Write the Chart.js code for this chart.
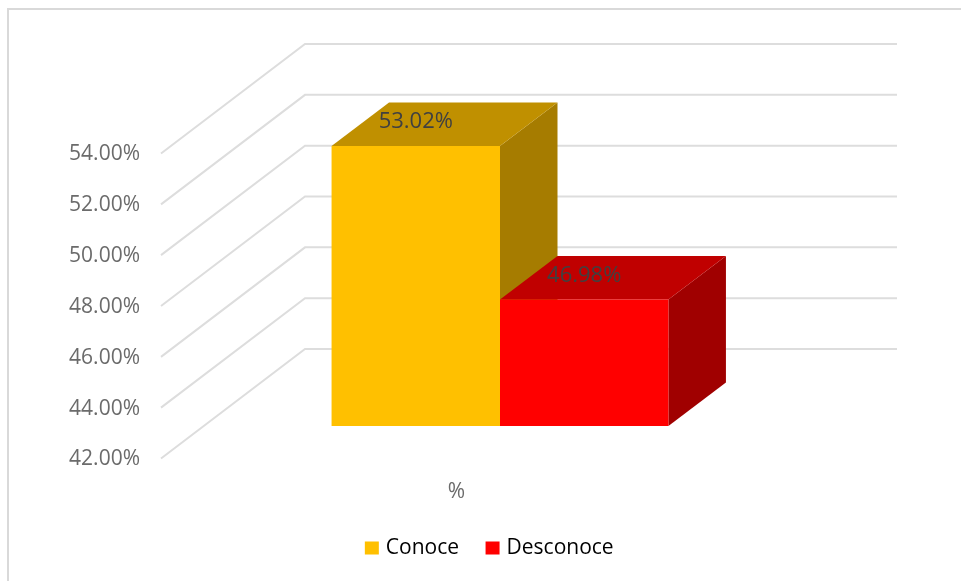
<!DOCTYPE html>
<html>
<head>
<meta charset="utf-8">
<style>html,body{margin:0;padding:0;background:#fff}canvas{display:block}</style>
<script src="https://cdn.jsdelivr.net/npm/chart.js@4"></script>
</head>
<body>
<canvas id="c" width="961" height="581"></canvas>
<script>
const categories = ['%'];
const seriesNames = ['Conoce', 'Desconoce'];
const conoceValues = [53.02];
const desconoceValues = [46.98];
const axisMin = 42;
const axisMax = 54;
const axisStep = 2;

const FONT = '"Open Sans", sans-serif';
const TEXT = '#6b6b6b';
const GRID = '#dddddd';
const pct = v => Number(v).toFixed(2) + '%';

const gridNudge = -1;
const wall = {dx: 144, dy: -109.5, right: 897};
const barShift = {dx: 43.5, dy: -33.5};
const depth = {dx: 57.5, dy: -43.5};
const faces = [
  {top: '#c09000', side: '#a67c00'},
  {top: '#c00000', side: '#a00000'}
];

function poly(ctx, pts, fill) {
  ctx.beginPath();
  pts.forEach((p, i) => i ? ctx.lineTo(p[0], p[1]) : ctx.moveTo(p[0], p[1]));
  ctx.closePath();
  ctx.fillStyle = fill;
  ctx.fill();
}

const scene3d = {
  id: 'scene3d',
  beforeDraw(chart) {
    const ctx = chart.ctx;
    ctx.save();
    ctx.strokeStyle = '#d9d9d9';
    ctx.lineWidth = 2;
    ctx.beginPath();
    ctx.moveTo(8, 581); ctx.lineTo(8, 9); ctx.lineTo(961, 9);
    ctx.stroke();
    ctx.restore();
  },
  beforeDatasetsDraw(chart) {
    const ctx = chart.ctx, y = chart.scales.y, left = chart.chartArea.left;
    ctx.save();
    ctx.strokeStyle = GRID;
    ctx.lineWidth = 2;
    y.ticks.forEach(t => {
      const py = y.getPixelForValue(t.value) + gridNudge;
      ctx.beginPath();
      ctx.moveTo(left, py);
      ctx.lineTo(left + wall.dx, py + wall.dy);
      ctx.lineTo(wall.right, py + wall.dy);
      ctx.stroke();
    });
    ctx.restore();
    ctx.save();
    ctx.translate(barShift.dx, barShift.dy);
    chart.data.datasets.forEach((ds, i) => {
      chart.getDatasetMeta(i).data.forEach(el => {
        const l = el.x - el.width / 2, r = el.x + el.width / 2, t = el.y, b = el.base;
        poly(ctx, [[r, t], [r + depth.dx, t + depth.dy], [r + depth.dx, b + depth.dy], [r, b]], faces[i].side);
        poly(ctx, [[l, t], [l + depth.dx, t + depth.dy], [r + depth.dx, t + depth.dy], [r, t]], faces[i].top);
      });
    });
  },
  afterDatasetsDraw(chart) {
    const ctx = chart.ctx;
    ctx.restore();
    ctx.save();
    ctx.font = '22px ' + FONT;
    ctx.fillStyle = '#404040';
    ctx.textAlign = 'center';
    ctx.textBaseline = 'middle';
    chart.data.datasets.forEach((ds, i) => {
      chart.getDatasetMeta(i).data.forEach((el, j) => {
        ctx.fillText(pct(ds.data[j]), el.x + barShift.dx, el.y + barShift.dy - 24);
      });
    });
    ctx.restore();
  }
};

new Chart(document.getElementById('c'), {
  type: 'bar',
  data: {
    labels: categories,
    datasets: [
      {label: seriesNames[0], data: conoceValues, backgroundColor: '#ffc000', base: axisMin, clip: false},
      {label: seriesNames[1], data: desconoceValues, backgroundColor: '#ff0000', base: axisMin, clip: false}
    ]
  },
  options: {
    responsive: false,
    animation: false,
    layout: {padding: {left: 21, right: 0, top: 154.5, bottom: 0}},
    datasets: {bar: {barPercentage: 1, categoryPercentage: 0.57}},
    scales: {
      x: {
        grid: {display: false, drawTicks: false},
        border: {display: false},
        ticks: {color: TEXT, font: {family: FONT, size: 21}, padding: 19.5},
        afterFit(s) { s.height = 48; }
      },
      y: {
        min: axisMin, max: axisMax,
        grid: {display: false, drawTicks: false},
        border: {display: false},
        ticks: {stepSize: axisStep, color: TEXT, font: {family: FONT, size: 21}, padding: 21, callback: pct},
        afterFit(s) { s.width = 140; }
      },
      yR: {
        position: 'right',
        min: axisMin, max: axisMax,
        grid: {display: false, drawTicks: false},
        border: {display: false},
        ticks: {display: false},
        afterFit(s) { s.width = 209; }
      }
    },
    plugins: {
      tooltip: {enabled: false},
      legend: {
        position: 'bottom',
        labels: {
          color: TEXT,
          font: {family: FONT, size: 21},
          boxWidth: 7,
          boxHeight: 6,
          padding: 30,
          generateLabels(chart) {
            return chart.data.datasets.map((ds, i) => ({
              text: ds.label,
              fillStyle: ds.backgroundColor,
              strokeStyle: ds.backgroundColor,
              lineWidth: 7,
              datasetIndex: i,
              hidden: false
            }));
          }
        }
      }
    }
  },
  plugins: [scene3d, {
    id: 'legendHeight',
    beforeLayout(chart) {
      const l = chart.legend;
      if (l && !l._fitPatched) {
        const fit = l.fit.bind(l);
        l.fit = function () { fit(); this.height = 73.5; };
        l._fitPatched = true;
      }
    }
  }]
});
</script>
</body>
</html>
